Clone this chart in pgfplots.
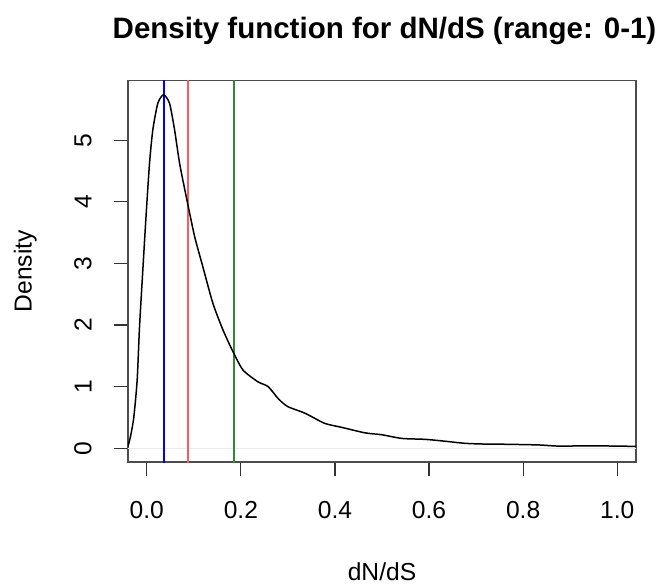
\documentclass[border=0pt]{standalone}
\usepackage{pgfplots}
\pgfplotsset{compat=1.18}
\usepackage{fontspec}
\setmainfont{Liberation Sans}
\definecolor{mygreen}{RGB}{50,135,50}
\definecolor{myred}{RGB}{250,90,90}
\begin{document}
\begin{tikzpicture}
\begin{axis}[
  name=ax,
  scale only axis,
  width=508pt, height=381.3pt,
  xmin=-0.04, xmax=1.04,
  ymin=-0.223, ymax=5.967,
  xtick={0,0.2,0.4,0.6,0.8,1.0},
  xticklabels={0.0,0.2,0.4,0.6,0.8,1.0},
  ytick={0,1,2,3,4,5},
  xtick pos=bottom, ytick pos=left,
  tick align=outside,
  major tick length=14pt,
  tick style={line width=1.2pt, color=black!80},
  axis line style={line width=1.3pt, color=black!70},
  font=\fontsize{24.6}{28}\selectfont,
  /pgf/number format/assume math mode=true,
  xticklabel style={anchor=north, inner sep=0pt},
  xticklabel shift=24.7pt,
  yticklabel style={rotate=90, anchor=south, inner sep=0pt},
  yticklabel shift=22.3pt,
  xlabel={dN/dS},
  ylabel={Density},
  xlabel style={at={(axis description cs:0.5,-0.30946)}, anchor=base, inner sep=0pt},
  ylabel style={at={(axis description cs:-0.18957,0.5)}, anchor=base, rotate=0, inner sep=0pt},
  title={\bfseries Density function for dN/dS (range: 0-1)},
  title style={at={(axis description cs:0.505,1.0944)}, anchor=base, inner sep=0pt, font=\fontsize{29.5}{33}\selectfont},
  clip=true,
]
\addplot[color=black!8, line width=1pt] coordinates {(-0.1,0) (1.1,0)};
\addplot[color=blue, line width=1.5pt] coordinates {(0.037,-1) (0.037,7)};
\addplot[color=myred, line width=2pt] coordinates {(0.0865,-1) (0.0865,7)};
\addplot[color=mygreen, line width=1.6pt] coordinates {(0.185,-1) (0.185,7)};
\addplot[color=black, line width=1.5pt, smooth, tension=0.4] coordinates {
(-0.045, -0.02)
(-0.040, 0.04)
(-0.035, 0.18)
(-0.0277, 0.50)
(-0.0205, 1.11)
(-0.0155, 1.97)
(-0.0085, 2.89)
(-0.0013, 3.81)
(0.0058, 4.63)
(0.0128, 5.17)
(0.0234, 5.60)
(0.0356, 5.74)
(0.0483, 5.60)
(0.059, 5.17)
(0.0696, 4.63)
(0.0839, 4.08)
(0.1016, 3.44)
(0.119, 2.95)
(0.1406, 2.35)
(0.162, 1.92)
(0.183, 1.57)
(0.2045, 1.27)
(0.236, 1.08)
(0.258, 1.00)
(0.280, 0.80)
(0.300, 0.675)
(0.336, 0.57)
(0.378, 0.405)
(0.414, 0.34)
(0.464, 0.25)
(0.499, 0.22)
(0.542, 0.16)
(0.591, 0.145)
(0.627, 0.12)
(0.677, 0.08)
(0.720, 0.068)
(0.762, 0.065)
(0.833, 0.054)
(0.875, 0.035)
(0.939, 0.04)
(1.00, 0.035)
(1.045, 0.03)
};
\end{axis}
\pgfresetboundingbox
\path ([shift={(-128pt,-124pt)}]ax.south west) rectangle ([shift={(27pt,80.7pt)}]ax.north east);
\end{tikzpicture}
\end{document}
